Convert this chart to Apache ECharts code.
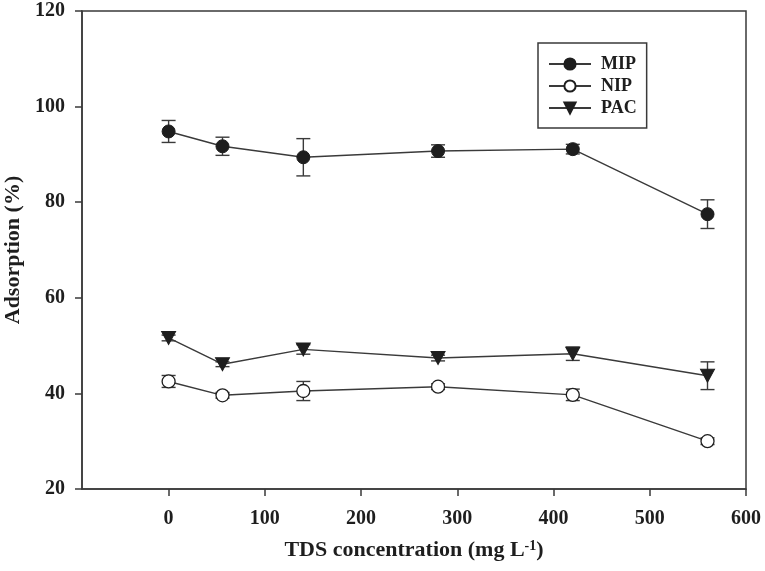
<!DOCTYPE html>
<html>
<head>
<meta charset="utf-8">
<script src="https://cdn.jsdelivr.net/npm/echarts@6/dist/echarts.min.js"></script>
<style>html,body{margin:0;padding:0;background:#fff}#c{width:765px;height:571px}</style>
</head>
<body>
<div id="c"></div>
<script>
const tdsValues = [0, 56, 140, 280, 420, 560];
const mipMean = [94.8, 91.7, 89.4, 90.7, 91.1, 77.5];
const mipErr  = [2.3, 1.9, 3.9, 1.3, 1.0, 3.0];
const nipMean = [42.5, 39.6, 40.5, 41.4, 39.7, 30.0];
const nipErr  = [1.25, 0.6, 2.0, 0.6, 1.2, 0.7];
const pacMean = [51.6, 46.1, 49.2, 47.4, 48.3, 43.7];
const pacErr  = [0.6, 0.5, 1.0, 0.6, 1.4, 2.9];
const xTicks = [0, 100, 200, 300, 400, 500, 600];
const seriesNames = ['MIP', 'NIP', 'PAC'];

const FONT = '"Liberation Serif", "Times New Roman", serif';
const INK = '#1e1e1e';
const AX = '#3a3a3a';

function pairs(means) { return tdsValues.map((x, i) => [x, means[i]]); }
function errData(means, errs) { return tdsValues.map((x, i) => [x, means[i] - errs[i], means[i] + errs[i]]); }

function errRender(params, api) {
  const x = api.value(0), lo = api.value(1), hi = api.value(2);
  const a = api.coord([x, hi]), b = api.coord([x, lo]);
  const w = 7;
  const st = { stroke: AX, lineWidth: 1.4 };
  return { type: 'group', children: [
    { type: 'line', shape: { x1: a[0], y1: a[1], x2: b[0], y2: b[1] }, style: st },
    { type: 'line', shape: { x1: a[0] - w, y1: a[1], x2: a[0] + w, y2: a[1] }, style: st },
    { type: 'line', shape: { x1: b[0] - w, y1: b[1], x2: b[0] + w, y2: b[1] }, style: st }
  ]};
}
function errSeries(means, errs) {
  return { type: 'custom', renderItem: errRender, data: errData(means, errs),
           encode: { x: 0, y: [1, 2] }, z: 1, silent: true };
}

const chart = echarts.init(document.getElementById('c'));
chart.setOption({
  animation: false,
  backgroundColor: '#fff',
  grid: { left: 82, right: 19, top: 11, bottom: 82, containLabel: false, outerBoundsMode: 'none',
          show: true, borderColor: AX, borderWidth: 1.5, backgroundColor: 'transparent' },
  legend: {
    orient: 'vertical', left: 538, top: 43,
    data: seriesNames,
    itemWidth: 42, itemHeight: 14, itemGap: 4,
    padding: [12, 10, 11, 10],
    borderColor: AX, borderWidth: 1.5,
    textStyle: { fontFamily: FONT, fontWeight: 'bold', fontSize: 18, color: INK, padding: [0, 0, 0, 5] }
  },
  xAxis: {
    type: 'value', min: -90, max: 600,
    name: 'TDS concentration (mg L{sup|-1})',
    nameLocation: 'middle', nameGap: 50,
    nameTextStyle: { fontFamily: FONT, fontWeight: 'bold', fontSize: 22, color: INK,
      rich: { sup: { fontFamily: FONT, fontWeight: 'bold', fontSize: 14, color: INK, verticalAlign: 'top', padding: [0, 0, 9, 0] } } },
    axisLine: { show: true, onZero: false, lineStyle: { color: AX, width: 1.5 } },
    axisTick: { show: true, inside: false, length: 7, customValues: xTicks, lineStyle: { color: AX, width: 1.5 } },
    axisLabel: { customValues: xTicks, margin: 20, fontFamily: FONT, fontWeight: 'bold', fontSize: 20, color: INK },
    splitLine: { show: false }
  },
  yAxis: {
    type: 'value', min: 20, max: 120, interval: 20,
    name: 'Adsorption (%)', nameLocation: 'middle', nameGap: 58,
    nameTextStyle: { fontFamily: FONT, fontWeight: 'bold', fontSize: 22, color: INK },
    axisLine: { show: true, onZero: false, lineStyle: { color: AX, width: 1.5 } },
    axisTick: { show: true, inside: false, length: 7, lineStyle: { color: AX, width: 1.5 } },
    axisLabel: { margin: 17, fontFamily: FONT, fontWeight: 'bold', fontSize: 20, color: INK },
    splitLine: { show: false }
  },
  series: [
    errSeries(mipMean, mipErr),
    errSeries(nipMean, nipErr),
    errSeries(pacMean, pacErr),
    { name: 'MIP', type: 'line', data: pairs(mipMean), symbol: 'circle', symbolSize: 13, z: 3,
      lineStyle: { color: AX, width: 1.4 }, itemStyle: { color: INK, borderColor: INK, borderWidth: 1 } },
    { name: 'NIP', type: 'line', data: pairs(nipMean), symbol: 'circle', symbolSize: 13, z: 3,
      lineStyle: { color: AX, width: 1.4 }, itemStyle: { color: '#fff', borderColor: INK, borderWidth: 1.3 } },
    { name: 'PAC', type: 'line', data: pairs(pacMean), symbol: 'triangle', symbolRotate: 180, symbolSize: [14, 13], z: 3,
      lineStyle: { color: AX, width: 1.4 }, itemStyle: { color: INK, borderColor: INK, borderWidth: 1 } }
  ]
});
</script>
</body>
</html>
